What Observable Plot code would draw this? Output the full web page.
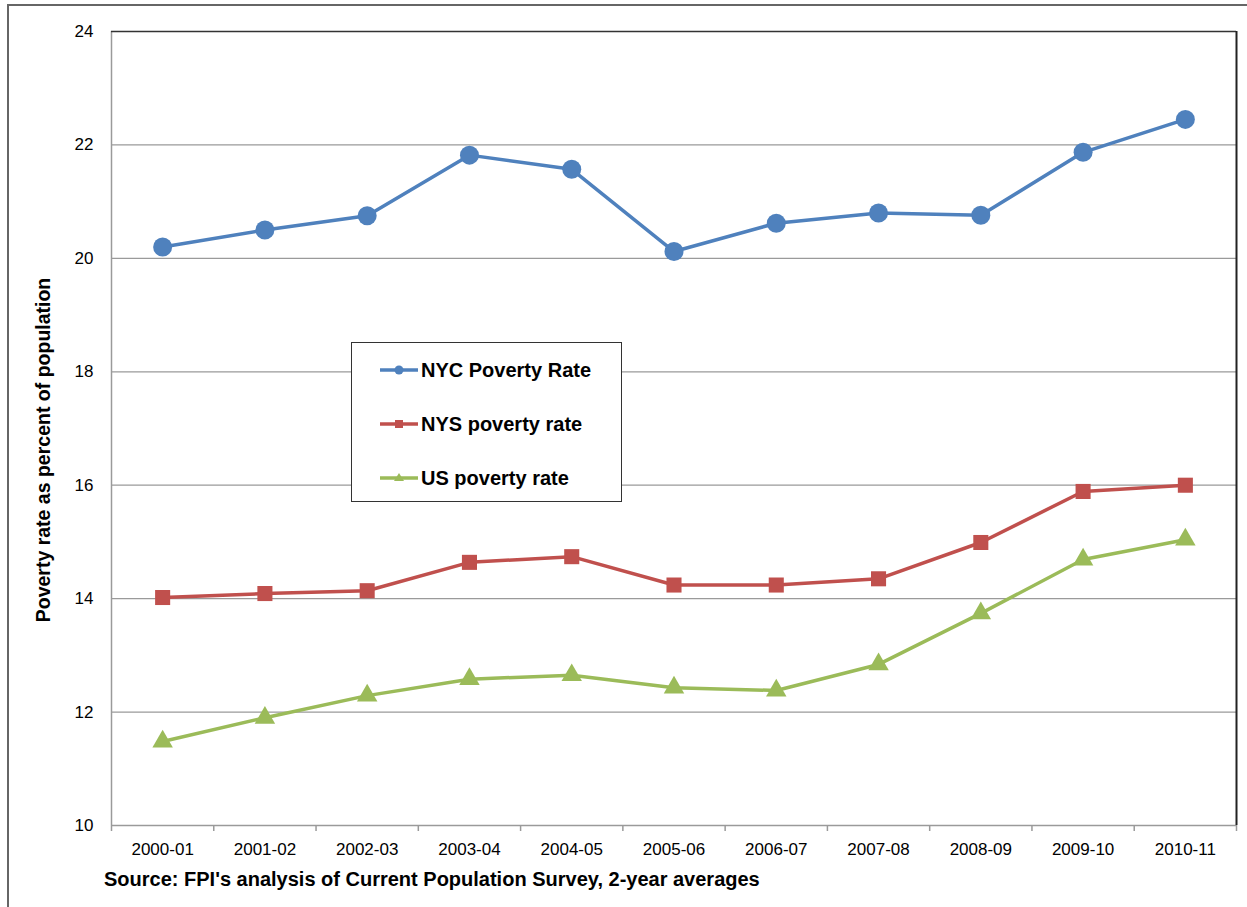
<!DOCTYPE html>
<html>
<head>
<meta charset="utf-8">
<script src="https://cdn.jsdelivr.net/npm/d3@7"></script>
<script src="https://cdn.jsdelivr.net/npm/@observablehq/plot@0.6"></script>
<style>
  html, body { margin: 0; padding: 0; background: #fff; overflow: hidden; }
  body { width: 1247px; height: 907px; position: relative; font-family: "Liberation Sans", Arial, sans-serif; color: #000; }
  #frame { position: absolute; left: 7px; top: 4px; width: 1260px; height: 930px; border: 2px solid #666; box-sizing: border-box; }
  #chart { position: absolute; left: 0; top: 0; }
  #ytitle { position: absolute; left: 43px; top: 450px; transform: translate(-50%, -50%) rotate(-90deg); white-space: nowrap; font-weight: bold; font-size: 19.5px; }
  #legend { position: absolute; left: 351px; top: 342px; width: 271px; height: 160px; border: 1.5px solid #333; background: #fff; box-sizing: border-box; }
  .row { position: absolute; left: 28px; display: flex; align-items: center; height: 24px; margin-top: -12px; font-weight: bold; font-size: 20px; white-space: nowrap; }
  .row svg { margin-right: 3px; }
  #source { position: absolute; left: 104px; top: 879px; transform: translateY(-50%); font-weight: bold; font-size: 20px; white-space: nowrap; }
</style>
</head>
<body>
<div id="frame"></div>
<div id="chart"></div>
<div id="ytitle">Poverty rate as percent of population</div>
<div id="legend"></div>
<div id="source">Source: FPI's analysis of Current Population Survey, 2-year averages</div>
<script>
// Two-year periods on the x axis
const periods = ["2000-01", "2001-02", "2002-03", "2003-04", "2004-05", "2005-06",
                 "2006-07", "2007-08", "2008-09", "2009-10", "2010-11"];

// Poverty rates (percent of population)
const nycRate = [20.2, 20.5, 20.75, 21.82, 21.57, 20.12, 20.62, 20.8, 20.76, 21.87, 22.45];
const nysRate = [14.02, 14.09, 14.14, 14.64, 14.74, 14.24, 14.24, 14.35, 14.99, 15.89, 16.0];
const usRate  = [11.48, 11.9, 12.29, 12.58, 12.65, 12.43, 12.38, 12.84, 13.74, 14.69, 15.04];

const yTicks = [10, 12, 14, 16, 18, 20, 22, 24];

const series = [
  { name: "NYC Poverty Rate", values: nycRate, color: "#4F81BD", symbol: "circle", r: 9.5, key: "circle" },
  { name: "NYS poverty rate", values: nysRate, color: "#C0504D", symbol: "square", r: 8.5, key: "square" },
  { name: "US poverty rate",  values: usRate,  color: "#9BBB59", symbol: "triangle", r: 7.6, key: "triangle" }
];

const rows = series.flatMap(s => s.values.map((v, i) => ({ series: s.name, i, v })));
const idx = periods.map((_, i) => i);
const bounds = periods.map((_, i) => i - 0.5).concat(periods.length - 0.5);

const marks = [
  Plot.ruleY(yTicks.filter(t => t > 10 && t < 24), { stroke: "#9a9a9a", strokeWidth: 1.2 }),
  Plot.ruleY([10], { stroke: "#9a9a9a", strokeWidth: 1.5 }),
  Plot.ruleX([-0.5], { stroke: "#9a9a9a", strokeWidth: 1.5 }),
  Plot.ruleY([24], { stroke: "#333", strokeWidth: 1.5 }),
  Plot.ruleX([periods.length - 0.5], { stroke: "#222", strokeWidth: 2 }),
  Plot.axisX({ ticks: bounds, tickSize: 6, tickFormat: () => "", stroke: "#9a9a9a", strokeWidth: 1.5, label: null }),
  Plot.axisX({ ticks: idx, tickSize: 0, tickPadding: 17, tickFormat: i => periods[i], fontSize: 17, label: null }),
  Plot.axisY({ ticks: yTicks, tickSize: 0, tickPadding: 18, fontSize: 17, label: null })
];

for (const s of series) {
  const data = rows.filter(d => d.series === s.name);
  marks.push(Plot.line(data, { x: "i", y: "v", stroke: s.color, strokeWidth: 3.5 }));
  marks.push(Plot.dot(data, { x: "i", y: "v", fill: s.color, stroke: "none", symbol: () => s.symbol, r: s.r }));
}

const chart = Plot.plot({
  width: 1247,
  height: 860,
  marginLeft: 111,
  marginRight: 11,
  marginTop: 31,
  marginBottom: 35,
  style: { fontFamily: "'Liberation Sans', Arial, sans-serif", color: "#000", background: "transparent", overflow: "visible" },
  x: { type: "linear", domain: [-0.5, periods.length - 0.5], label: null },
  y: { domain: [10, 24], label: null },
  marks
});
document.getElementById("chart").appendChild(chart);

// Legend box
const legend = document.getElementById("legend");
const rowTops = [27, 81, 135];
const shapes = {
  circle: c => `<circle cx="19" cy="8" r="4.5" fill="${c}"/>`,
  square: c => `<rect x="15" y="4" width="8" height="8" fill="${c}"/>`,
  triangle: c => `<path d="M19,3 L24,11 L14,11 Z" fill="${c}"/>`
};
series.forEach((s, k) => {
  const row = document.createElement("div");
  row.className = "row";
  row.style.top = rowTops[k] + "px";
  row.innerHTML = `<svg width="38" height="16"><line x1="0" y1="8" x2="38" y2="8" stroke="${s.color}" stroke-width="3.5"/>${shapes[s.key](s.color)}</svg><span>${s.name}</span>`;
  legend.appendChild(row);
});
</script>
</body>
</html>
